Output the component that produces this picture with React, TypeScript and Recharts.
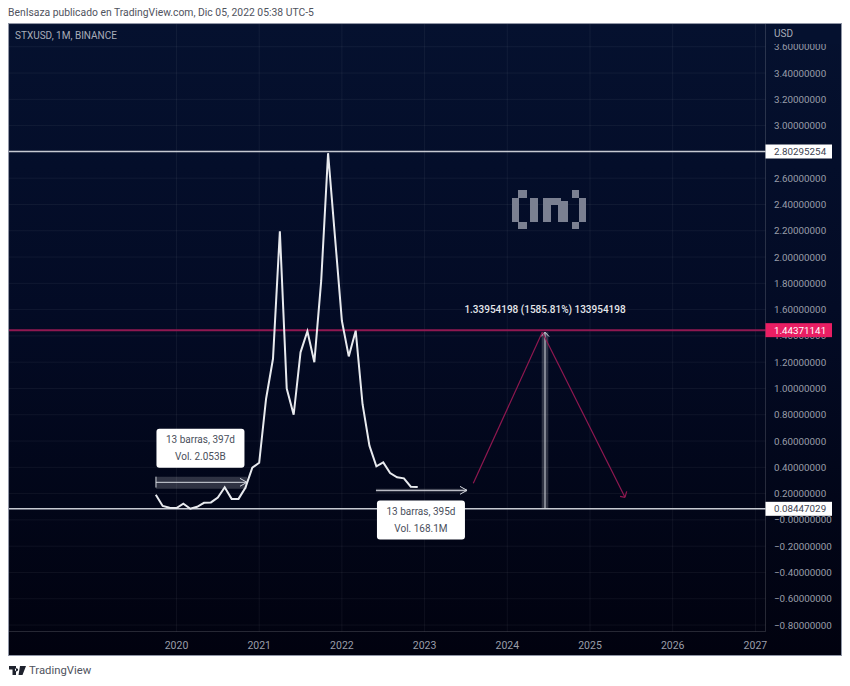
import React from 'react';
import { LineChart, Line, XAxis, YAxis, CartesianGrid, ReferenceLine, ReferenceArea, ReferenceDot } from 'recharts';

const months = [
  2019.75, 2019.833, 2019.917,
  2020, 2020.083, 2020.167, 2020.25, 2020.333, 2020.417, 2020.5, 2020.583, 2020.667, 2020.75, 2020.833, 2020.917,
  2021, 2021.083, 2021.167, 2021.25, 2021.333, 2021.417, 2021.5, 2021.583, 2021.667, 2021.75, 2021.833, 2021.917,
  2022, 2022.083, 2022.167, 2022.25, 2022.333, 2022.417, 2022.5, 2022.583, 2022.667, 2022.75, 2022.833, 2022.917,
];
const closes = [
  0.192, 0.106, 0.093,
  0.09, 0.124, 0.085, 0.10, 0.13, 0.133, 0.17, 0.248, 0.16, 0.16, 0.245, 0.397,
  0.435, 0.92, 1.226, 2.195, 1.0, 0.8, 1.275, 1.435, 1.2, 1.82, 2.79, 2.15,
  1.515, 1.244, 1.44, 0.88, 0.565, 0.408, 0.438, 0.357, 0.324, 0.316, 0.253, 0.25,
];
const yearTicks = [2020, 2021, 2022, 2023, 2024, 2025, 2026, 2027];
const priceTicks = [
  -0.8, -0.6, -0.4, -0.2, 0, 0.2, 0.4, 0.6, 0.8, 1, 1.2, 1.4, 1.6, 1.8, 2, 2.2, 2.4, 2.6, 2.8, 3, 3.2, 3.4, 3.6,
];
const xDomain = [2017.975, 2027.122];
const yDomain = [-0.849, 3.773];

const topLevel = 2.80295254;
const targetLevel = 1.44371141;
const baseLevel = 0.08447029;

const rows = months.map((m, i) => ({ t: m, close: closes[i] }));

const WHITE = '#e8eaee';
const MAGENTA = '#8f1850';
const FONT = 'Roboto, "Noto Sans", sans-serif';

// [x1, y1, x2, y2] in year / price units
const whiteSegments = [
  [2019.752, 0.286, 2020.852, 0.286],
  [2019.752, 0.329, 2019.752, 0.246],
  [2020.768, 0.316, 2020.852, 0.286],
  [2020.768, 0.256, 2020.852, 0.286],
  [2022.412, 0.225, 2023.513, 0.225],
  [2023.428, 0.255, 2023.513, 0.225],
  [2023.428, 0.195, 2023.513, 0.225],
  [2024.456, 0.0845, 2024.456, 1.428],
  [2024.407, 1.395, 2024.456, 1.428],
  [2024.505, 1.395, 2024.456, 1.428],
];
const magentaSegments = [
  [2023.589, 0.278, 2024.423, 1.427],
  [2024.423, 1.427, 2025.423, 0.172],
  [2025.363, 0.179, 2025.423, 0.172],
  [2025.444, 0.217, 2025.423, 0.172],
];
// [x1, x2, y1, y2]
const bands = [
  [2019.752, 2020.852, 0.238, 0.329],
  [2022.412, 2023.513, 0.211, 0.238],
  [2024.416, 2024.496, 0.0845, 1.428],
];
const noteBoxes = [
  { corner: [2019.758, 0.694], lines: ['13 barras, 397d', 'Vol. 2.053B'] },
  { corner: [2022.424, 0.147], lines: ['13 barras, 395d', 'Vol. 168.1M'] },
];
const priceTags = [
  { value: topLevel, fill: '#ffffff', color: '#3c4250' },
  { value: targetLevel, fill: '#e91e63', color: '#ffffff' },
  { value: baseLevel, fill: '#ffffff', color: '#3c4250' },
];
const measureLabel = { x: 2024.456, y: 1.576, text: '1.33954198 (1585.81%) 133954198' };

const axisTicks = [...priceTicks, ...priceTags.map((t) => t.value)];

const fmtPrice = (v: number) => (v <= 0 ? '\u2212' + Math.abs(v).toFixed(8) : v.toFixed(8));

const PriceTick = (p: any) => {
  const v = p.payload.value;
  const tag = priceTags.find((t) => t.value === v);
  if (tag) {
    return (
      <g>
        <rect x={p.x} y={p.y - 7} width={66.5} height={14} fill={tag.fill} />
        <text x={p.x + 8.5} y={p.y + 3.5} fontSize={9.8} fontFamily={FONT} fill={tag.color}>{v.toFixed(8)}</text>
      </g>
    );
  }
  return (
    <text x={p.x + 8.5} y={p.y + 3.5} fontSize={9.8} fontFamily={FONT} fill="#9a9ea9">{fmtPrice(v)}</text>
  );
};

const NoteShape = (lines: string[]) => (p: any) => (
  <g>
    <rect x={p.cx} y={p.cy} width={88} height={39} rx={3} fill="#ffffff" />
    <text x={p.cx + 44} y={p.cy + 14} textAnchor="middle" fontSize={10} fontFamily={FONT} fill="#4a4f5c">{lines[0]}</text>
    <text x={p.cx + 44} y={p.cy + 31} textAnchor="middle" fontSize={10} fontFamily={FONT} fill="#4a4f5c">{lines[1]}</text>
  </g>
);

const Logo = () => (
  <svg style={{ position: 'absolute', left: 510, top: 188, filter: 'blur(0.6px)' }} width={78} height={42} viewBox="0 0 78 42" fill="#7b8091">
    <path d="M8 2h9v8H8zM2 10h7v24H2zM8 34h9v7H8zM20 10h8v24h-8zM33 10h8v24h-8zM40 10h11v7H40zM48 13h10v21H48zM62 2h7v8h-7zM69 10h7v24h-7zM62 34h7v7h-7z" />
  </svg>
);

const TvMark = () => (
  <svg style={{ position: 'absolute', left: 9, top: 666 }} width={17} height={9} viewBox="0 0 17 9" fill="#1e222d">
    <path d="M0 0h7v9H3.5V3.5H0zM7.5 2.2a1.6 1.6 0 1 0 0.01 0zM11 0h6l-3.5 9h-4z" />
  </svg>
);

export default function App() {
  return (
    <div style={{ position: 'absolute', left: 0, top: 0, width: 850, height: 686, background: '#ffffff', fontFamily: FONT, overflow: 'hidden' }}>
      <div style={{ position: 'absolute', left: 8, top: 7, fontSize: 10.35, lineHeight: '12px', color: '#50535e', whiteSpace: 'nowrap' }}>
        BenIsaza publicado en TradingView.com, Dic 05, 2022 05:38 UTC-5
      </div>
      <div style={{ position: 'absolute', left: 8, top: 23, width: 832, height: 631, border: '1px solid #8f95a5', background: 'linear-gradient(180deg,#05112f 0%,#030b25 45%,#01020f 100%)' }} />
      <div style={{ position: 'absolute', left: 0, top: 0 }}>
        <LineChart width={850} height={686} data={rows} margin={{ top: 24, left: 9, right: 8.5, bottom: 30.5 }}>
          <CartesianGrid stroke="rgba(255,255,255,0.055)" strokeWidth={1} />
          <XAxis
            dataKey="t"
            type="number"
            domain={xDomain}
            ticks={yearTicks}
            allowDataOverflow
            height={24}
            tickLine={false}
            tickMargin={4}
            axisLine={{ stroke: 'rgba(255,255,255,0.1)' }}
            tick={{ fill: '#9a9ea9', fontSize: 10.5, fontFamily: FONT }}
          />
          <YAxis
            orientation="right"
            type="number"
            domain={yDomain}
            ticks={axisTicks}
            interval={0}
            allowDataOverflow
            width={76}
            tickLine={false}
            tickSize={0}
            tickMargin={0}
            axisLine={{ stroke: 'rgba(255,255,255,0.1)' }}
            tick={PriceTick}
          />
          {bands.map((b, i) => (
            <ReferenceArea key={'b' + i} x1={b[0]} x2={b[1]} y1={b[2]} y2={b[3]} fill="#ffffff" fillOpacity={0.18} stroke="none" />
          ))}
          <ReferenceLine y={topLevel} stroke="#c6c9d1" strokeWidth={1.5} />
          <ReferenceLine y={targetLevel} stroke={MAGENTA} strokeWidth={2} />
          <ReferenceLine y={baseLevel} stroke="#c6c9d1" strokeWidth={1.5} />
          {whiteSegments.map((s, i) => (
            <ReferenceLine key={'w' + i} segment={[{ x: s[0], y: s[1] }, { x: s[2], y: s[3] }]} stroke="#d5d8df" strokeWidth={1} />
          ))}
          {magentaSegments.map((s, i) => (
            <ReferenceLine key={'m' + i} segment={[{ x: s[0], y: s[1] }, { x: s[2], y: s[3] }]} stroke={MAGENTA} strokeWidth={1.2} />
          ))}
          <Line dataKey="close" type="linear" stroke={WHITE} strokeWidth={2} dot={false} activeDot={false} isAnimationActive={false} />
          {noteBoxes.map((n, i) => (
            <ReferenceDot key={'n' + i} x={n.corner[0]} y={n.corner[1]} r={0} shape={NoteShape(n.lines)} />
          ))}
          <ReferenceDot
            x={measureLabel.x}
            y={measureLabel.y}
            r={0}
            shape={(p: any) => (
              <text x={p.cx} y={p.cy} textAnchor="middle" fontSize={10} fontWeight={500} fontFamily={FONT} fill="#e4e6ea">{measureLabel.text}</text>
            )}
          />
        </LineChart>
      </div>
      <div style={{ position: 'absolute', left: 766, top: 24, width: 74, height: 20, background: '#05112f', color: '#a9adb8', fontSize: 10, lineHeight: '20px', paddingLeft: 8, boxSizing: 'border-box' }}>USD</div>
      <div style={{ position: 'absolute', left: 15, top: 30, fontSize: 10, lineHeight: '12px', color: '#a9adb8' }}>STXUSD, 1M, BINANCE</div>
      <Logo />
      <TvMark />
      <div style={{ position: 'absolute', left: 29, top: 664, fontSize: 11.3, lineHeight: '14px', color: '#50535e' }}>TradingView</div>
    </div>
  );
}
